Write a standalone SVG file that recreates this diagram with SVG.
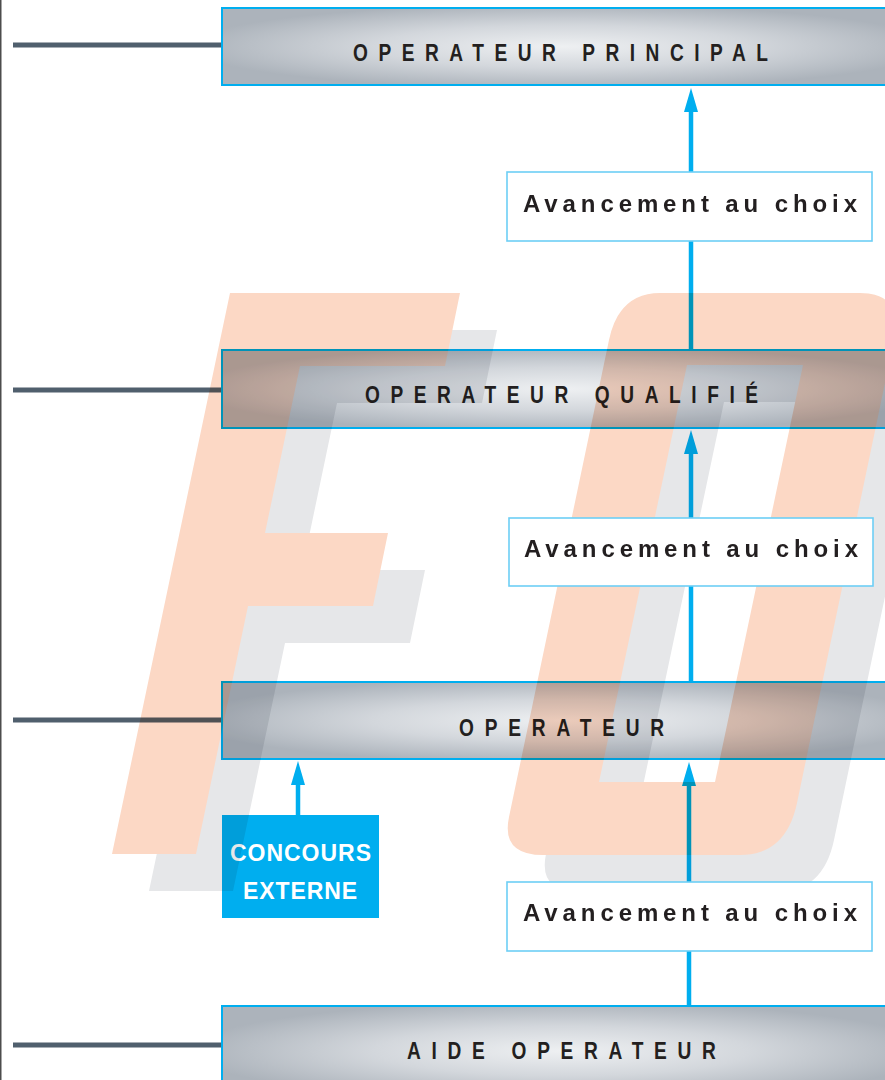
<svg xmlns="http://www.w3.org/2000/svg" width="885" height="1080" viewBox="0 0 885 1080">
<defs>
<radialGradient id="metal" cx="0.5" cy="0.5" r="0.55">
<stop offset="0" stop-color="#eef0f2"/>
<stop offset="0.5" stop-color="#d3d7dc"/>
<stop offset="1" stop-color="#acb3bb"/>
</radialGradient>
<marker id="head" markerUnits="userSpaceOnUse" markerWidth="25" markerHeight="14" refX="0" refY="7" orient="auto" viewBox="0 0 25 14">
<path d="M0,0 L24,7 L0,14 Z" fill="#00aeef"/>
</marker>
<path id="F" d="M230,293 L460,293 L445,366 L300,366 L265,533 L388,533 L373,606 L248,606 L196,854 L112,854 Z"/>
<path id="O" fill-rule="evenodd" d="M660,293 L860,293 Q904,293 894,340 L797,803 Q786,855 740,855 L543,855 Q501,855 509,817 L609,340 Q619,293 660,293 Z M687,365 L599,782 L715,782 L803,365 Z"/>
</defs>
<style>
.tier{fill:url(#metal);stroke:#00aeef;stroke-width:2}
.title{font-family:"Liberation Sans",Arial,sans-serif;font-weight:bold;font-size:24.5px;fill:#231f20}
.adv rect{fill:#ffffff;stroke:#6dcff6;stroke-width:1.6}
.adv text{font-family:"Liberation Sans",Arial,sans-serif;font-weight:bold;font-size:24px;fill:#231f20}
.link{stroke:#505f6d;stroke-width:5;fill:none}
.arrow{stroke:#00aeef;stroke-width:4.5;fill:none}
.cc{font-family:"Liberation Sans",Arial,sans-serif;font-weight:bold;font-size:23px;fill:#ffffff;text-anchor:middle}
</style>
<rect x="0" y="0" width="885" height="1080" fill="#ffffff"/>
<line x1="0.75" y1="0" x2="0.75" y2="1080" stroke="#4d4d4d" stroke-width="1.5"/>

<g id="connectors">
<line class="link" x1="13" y1="45" x2="222" y2="45"/>
<line class="link" x1="13" y1="390" x2="222" y2="390"/>
<line class="link" x1="13" y1="720" x2="222" y2="720"/>
<line class="link" x1="13" y1="1045" x2="222" y2="1045"/>
<line class="arrow" x1="691" y1="350" x2="691" y2="112" marker-end="url(#head)"/>
<line class="arrow" x1="691" y1="682" x2="691" y2="454" marker-end="url(#head)"/>
<line class="arrow" x1="689" y1="1006" x2="689" y2="786" marker-end="url(#head)"/>
<line class="arrow" x1="298" y1="815" x2="298" y2="785" marker-end="url(#head)"/>
</g>

<g id="operateur-principal">
<rect class="tier" x="222" y="8" width="680" height="77"/>
<text class="title" transform="translate(353,61) scale(0.78,1)" textLength="532" lengthAdjust="spacing">OPERATEUR PRINCIPAL</text>
</g>
<g id="operateur-qualifie">
<rect class="tier" x="222" y="350" width="680" height="78"/>
<text class="title" transform="translate(365,403) scale(0.78,1)" textLength="504" lengthAdjust="spacing">OPERATEUR QUALIFIÉ</text>
</g>
<g id="operateur">
<rect class="tier" x="222" y="682" width="680" height="77"/>
<text class="title" transform="translate(459,736) scale(0.78,1)" textLength="263" lengthAdjust="spacing">OPERATEUR</text>
</g>
<g id="aide-operateur">
<rect class="tier" x="222" y="1006" width="680" height="90"/>
<text class="title" transform="translate(407,1059) scale(0.78,1)" textLength="396" lengthAdjust="spacing">AIDE OPERATEUR</text>
</g>
<g id="concours-externe">
<rect x="222" y="815" width="157" height="103" fill="#00aeef"/>
<text class="cc" x="300.5" y="861" textLength="141" lengthAdjust="spacing">CONCOURS</text>
<text class="cc" x="300" y="899" textLength="114" lengthAdjust="spacing">EXTERNE</text>
</g>

<g id="watermark" style="mix-blend-mode:multiply">
<use href="#F" transform="translate(37,37)" fill="#e6e7e9"/>
<use href="#O" transform="translate(37,37)" fill="#e6e7e9"/>
<use href="#F" fill="#fcd8c5"/>
<use href="#O" fill="#fcd8c5"/>
</g>

<g id="avancement-1" class="adv">
<rect x="507" y="172" width="365" height="69"/>
<text x="523" y="212" textLength="334" lengthAdjust="spacing">Avancement au choix</text>
</g>
<g id="avancement-2" class="adv">
<rect x="509" y="518" width="364" height="68"/>
<text x="524" y="557" textLength="334" lengthAdjust="spacing">Avancement au choix</text>
</g>
<g id="avancement-3" class="adv">
<rect x="507" y="882" width="365" height="69"/>
<text x="523" y="921" textLength="334" lengthAdjust="spacing">Avancement au choix</text>
</g>
</svg>
